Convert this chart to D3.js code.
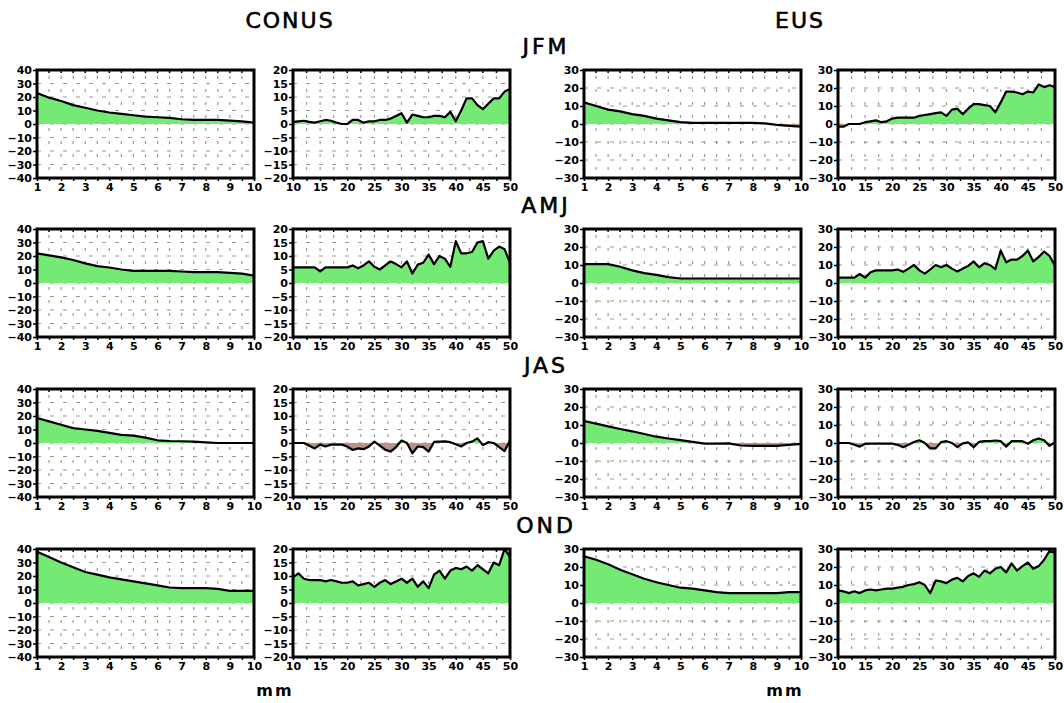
<!DOCTYPE html>
<html>
<head>
<meta charset="utf-8">
<script src="https://cdn.jsdelivr.net/npm/d3@7"></script>
<style>
  body { margin: 0; background: #fff; }
  svg text { font-family: "DejaVu Sans", sans-serif; }
</style>
</head>
<body>
<svg width="1064" height="703"></svg>
<script>
// bins (mm)
const shortBins = [1, 1.5, 2, 2.5, 3, 3.5, 4, 4.5, 5, 5.5, 6, 6.5, 7, 7.5, 8, 8.5, 9, 9.5, 10];
const longBins = [10, 11, 12, 13, 14, 15, 16, 17, 18, 19, 20, 21, 22, 23, 24, 25, 26, 27, 28, 29, 30,
                  31, 32, 33, 34, 35, 36, 37, 38, 39, 40, 41, 42, 43, 44, 45, 46, 47, 48, 49, 50];

const seasons = ["JFM", "AMJ", "JAS", "OND"];
const regions = ["CONUS", "EUS"];

// CONUS, 1-10 mm
const conusShortJFM = [23, 19.5, 17, 14, 12, 10, 8.5, 7.5, 6.5, 5.5, 5, 4.5, 3.5, 3, 3, 3, 2.5, 2, 1];
const conusShortAMJ = [22, 20.5, 19, 17, 14.5, 12.5, 11.5, 10, 9, 9, 9, 9, 8.5, 8, 8, 8, 7.5, 7, 5.5];
const conusShortJAS = [18.5, 16, 13.5, 11, 10, 9, 7.5, 6, 5.5, 4, 2, 1.5, 1.3, 1, 0.5, 0, 0, 0, 0];
const conusShortOND = [38, 34, 30, 26.5, 23, 21, 19, 17.5, 16, 14.5, 13, 11.5, 11, 11, 11, 10.5, 9, 9, 9];

// CONUS, 10-50 mm
const conusLongJFM = [0.8, 1, 1.2, 0.8, 0.5, 1, 1.5, 1.2, 0.5, 0, 0, 1.5, 1.5, 0.5, 1, 1, 1.5, 1.5, 2, 3, 4,
                      0.5, 3.5, 3, 2.5, 2.5, 3, 3, 2.5, 4.5, 1, 5, 9.5, 9.5, 7, 5.5, 7.5, 9.5, 9.5, 12, 13];
const conusLongAMJ = [5.8, 5.8, 5.8, 5.8, 5.8, 4.3, 5.8, 5.8, 5.8, 5.8, 5.8, 6.5, 5.5, 6.5, 8, 6, 5, 6.5, 8, 7, 5.8,
                      8, 3.5, 6.8, 7.5, 10.5, 7, 10, 9, 6, 15.5, 11, 11, 11.5, 15, 15.5, 9, 12, 13.5, 12.5, 7.5];
const conusLongJAS = [0, 0, 0, -1, -2, -0.6, -1.3, -0.6, -0.6, -0.6, -1.3, -2.6, -2, -2.3, -1.3, 0.5, -1, -2.5, -3.2, -1.5, 0.9,
                      0, -3.8, -1.3, -1.5, -3.2, 0.4, 0.5, 0.6, 0.3, -0.5, -1.3, 0, 0.5, 1.7, -0.8, 0.3, 0, -1.5, -3, 0.9];
const conusLongOND = [9.5, 11, 9, 8.5, 8.5, 8.5, 8, 8.5, 8, 7.5, 7.5, 8, 6.5, 7, 7.5, 6, 7.5, 8.5, 7, 8, 9,
                      7.5, 9, 6, 8, 5.5, 10.5, 12, 9, 12, 13, 12.5, 13.5, 12, 14, 12.5, 11, 15, 14, 20, 17];

// EUS, 1-10 mm
const eusShortJFM = [12, 10, 8, 7, 5.5, 4.5, 3, 2, 1, 0.6, 0.6, 0.6, 0.6, 0.6, 0.6, 0.3, -0.5, -1, -1.5];
const eusShortAMJ = [10.5, 10.5, 10.5, 9, 7, 5.5, 4.5, 3.3, 2.5, 2.5, 2.5, 2.5, 2.5, 2.5, 2.5, 2.5, 2.5, 2.5, 2.5];
const eusShortJAS = [12.2, 10.8, 9.2, 7.8, 6.5, 5, 3.5, 2.5, 1.6, 0.6, -0.3, -0.3, -0.2, -1.4, -1.6, -1.6, -1.6, -1, -0.5];
const eusShortOND = [26, 24, 21.5, 18.5, 16, 13.5, 11.5, 10, 8.5, 8, 7, 6, 5.5, 5.5, 5.5, 5.5, 5.5, 6, 6];

// EUS, 10-50 mm
const eusLongJFM = [-1.5, -1.5, 0, 0, 0, 1, 1.5, 2, 1, 1.5, 3, 3.5, 3.5, 3.5, 3.5, 4.5, 5, 5.5, 6, 6.5, 4.5,
                    8, 8.5, 5.5, 8.5, 11, 11, 10.5, 10, 6.5, 12, 18, 18, 17.5, 16.5, 18, 17.5, 22, 20.5, 21.5, 20.5];
const eusLongAMJ = [3, 3, 3, 3, 5, 3, 6, 7, 7, 7, 7, 7.5, 6.2, 8, 10, 7, 5.2, 7.5, 10, 8.7, 10,
                    8, 6.4, 8, 9.5, 12, 8.7, 11, 10, 7.7, 18, 11.5, 13, 13, 15, 18, 12, 14.5, 17.5, 15, 9.6];
const eusLongJAS = [0, 0, 0, -1, -2, -0.5, -0.4, -0.4, -0.4, -0.4, -0.4, -1, -2.3, -1, 0.5, 1.5, 0, -3, -3, 0.5, 1,
                    0, -2.3, -0.2, 0.3, -2.3, 0.6, 1, 1, 1.4, 1, -2, 1, 1, 1, -0.4, 1.5, 2.5, 1.5, -1.6, 0.5];
const eusLongOND = [7, 6.5, 5.5, 6.5, 5.5, 7, 7.5, 7, 7.5, 8, 8, 8.5, 9, 10, 10.5, 11.5, 10, 5.5, 12.5, 12, 11,
                    13, 14, 12, 15, 16.5, 14.5, 18, 16.5, 19, 20, 17, 22, 18, 20.5, 22.5, 19, 20.5, 24, 29, 28];

// tick labels
const shortTicks = [1, 2, 3, 4, 5, 6, 7, 8, 9, 10];
const longTicks = [10, 15, 20, 25, 30, 35, 40, 45, 50];
const conusShortY = [-40, -30, -20, -10, 0, 10, 20, 30, 40];
const conusLongY = [-20, -15, -10, -5, 0, 5, 10, 15, 20];
const eusY = [-30, -20, -10, 0, 10, 20, 30];

const svg = d3.select("svg");
const defs = svg.append("defs");

const colLeft = [37, 293, 584, 838];
const rowTop = [70, 229, 389, 549];
const panelW = 217;
const panelH = 108;

const green = "#74ea74";
const brown = "#bc9284";

// one entry per column
const columns = [
  { bins: shortBins, xTicks: shortTicks, minor: 0.5, yTicks: conusShortY,
    data: [conusShortJFM, conusShortAMJ, conusShortJAS, conusShortOND] },
  { bins: longBins, xTicks: longTicks, minor: 2.5, yTicks: conusLongY,
    data: [conusLongJFM, conusLongAMJ, conusLongJAS, conusLongOND] },
  { bins: shortBins, xTicks: shortTicks, minor: 0.5, yTicks: eusY,
    data: [eusShortJFM, eusShortAMJ, eusShortJAS, eusShortOND] },
  { bins: longBins, xTicks: longTicks, minor: 2.5, yTicks: eusY,
    data: [eusLongJFM, eusLongAMJ, eusLongJAS, eusLongOND] }
];

function drawPanel(col, row) {
  const c = columns[col];
  const values = c.data[row];
  const id = "p" + col + "_" + row;
  const xDom = d3.extent(c.bins);
  const x = d3.scaleLinear().domain(xDom).range([0, panelW]);
  const y = d3.scaleLinear().domain(d3.extent(c.yTicks)).range([panelH, 0]);
  const minorTicks = d3.range(xDom[0], xDom[1] + 1e-6, c.minor);

  const g = svg.append("g").attr("transform", `translate(${colLeft[col]},${rowTop[row]})`);

  // dashed grid
  g.selectAll(".hg").data(c.yTicks.slice(1, -1)).join("line")
    .attr("x1", 0).attr("x2", panelW)
    .attr("y1", d => y(d)).attr("y2", d => y(d))
    .attr("stroke", "#9a9a9a").attr("stroke-width", 1.2)
    .attr("stroke-dasharray", "4,9");
  g.selectAll(".vg").data(minorTicks.slice(1, -1)).join("line")
    .attr("x1", d => x(d)).attr("x2", d => x(d))
    .attr("y1", 0).attr("y2", panelH)
    .attr("stroke", "#9a9a9a").attr("stroke-width", 1.2)
    .attr("stroke-dasharray", "3,10")
    .attr("stroke-dashoffset", -6);

  // clip above / below zero
  defs.append("clipPath").attr("id", id + "up")
    .append("rect").attr("x", 0).attr("y", 0).attr("width", panelW).attr("height", y(0));
  defs.append("clipPath").attr("id", id + "dn")
    .append("rect").attr("x", 0).attr("y", y(0)).attr("width", panelW).attr("height", panelH - y(0));

  const area = d3.area()
    .x((d, i) => x(c.bins[i]))
    .y0(y(0))
    .y1(d => y(d));
  g.append("path").attr("d", area(values)).attr("fill", green).attr("clip-path", `url(#${id}up)`);
  g.append("path").attr("d", area(values)).attr("fill", brown).attr("clip-path", `url(#${id}dn)`);

  const line = d3.line().x((d, i) => x(c.bins[i])).y(d => y(d));
  g.append("path").attr("d", line(values))
    .attr("fill", "none").attr("stroke", "#000").attr("stroke-width", 2.2)
    .attr("stroke-linejoin", "round");

  // inward ticks on top
  g.selectAll(".tt").data(minorTicks).join("line")
    .attr("x1", d => x(d)).attr("x2", d => x(d))
    .attr("y1", 0).attr("y2", 3)
    .attr("stroke", "#000").attr("stroke-width", 1.5);

  // axes
  const yAxis = g.append("g")
    .call(d3.axisLeft(y).tickValues(c.yTicks).tickSize(4).tickPadding(1).tickFormat(d3.format("d")));
  const xAxis = g.append("g").attr("transform", `translate(0,${panelH})`)
    .call(d3.axisBottom(x).tickValues(minorTicks).tickSize(3).tickPadding(2)
      .tickFormat(d => c.xTicks.includes(d) ? d : ""));
  [yAxis, xAxis].forEach(a => {
    a.select(".domain").remove();
    a.selectAll("line").attr("stroke-width", 1.5);
    a.selectAll("text").attr("font-size", 11).attr("font-weight", "bold")
      .attr("font-family", "DejaVu Sans").attr("fill", "#000");
  });

  // thick frame
  g.append("rect").attr("width", panelW).attr("height", panelH)
    .attr("fill", "none").attr("stroke", "#000").attr("stroke-width", 3);
}

columns.forEach((c, col) => seasons.forEach((s, row) => drawPanel(col, row)));

// region titles
const regionX = [290, 800];
svg.selectAll(".region").data(regions).join("text")
  .attr("x", (d, i) => regionX[i]).attr("y", 28)
  .attr("text-anchor", "middle")
  .attr("font-family", "Liberation Sans, Arial, sans-serif")
  .attr("font-size", 22).attr("letter-spacing", 2)
  .attr("stroke", "#000").attr("stroke-width", 0.6)
  .text(d => d);

// season labels
svg.selectAll(".season").data(seasons).join("text")
  .attr("x", 546).attr("y", (d, i) => rowTop[i] - 16)
  .attr("text-anchor", "middle")
  .attr("font-family", "Liberation Sans, Arial, sans-serif")
  .attr("font-size", 22).attr("letter-spacing", 3)
  .attr("stroke", "#000").attr("stroke-width", 0.6)
  .text(d => d);

// unit labels
svg.selectAll(".unit").data(regionX).join("text")
  .attr("x", d => d - 15).attr("y", 696)
  .attr("text-anchor", "middle")
  .attr("font-family", "Liberation Sans, Arial, sans-serif")
  .attr("font-weight", "bold")
  .attr("font-size", 16).attr("letter-spacing", 2)
  .text("mm");
</script>
</body>
</html>
